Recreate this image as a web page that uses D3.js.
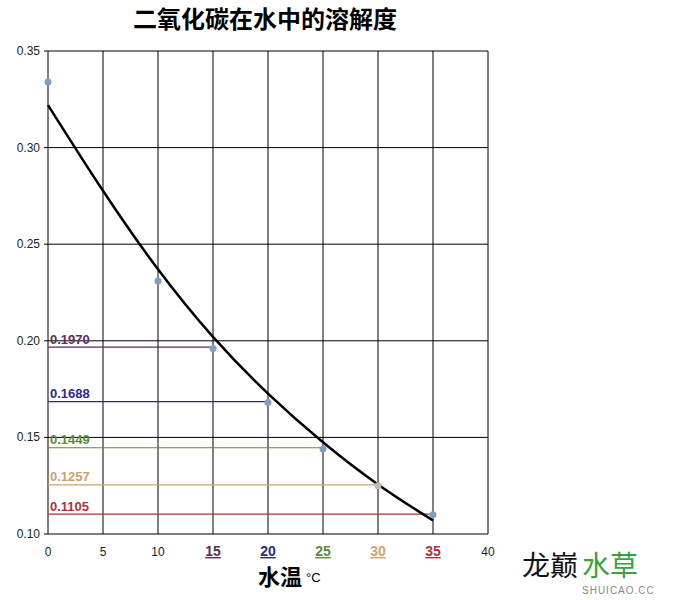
<!DOCTYPE html><html><head><meta charset="utf-8"><script src="https://cdn.jsdelivr.net/npm/d3@7"></script>
<style>body{margin:0;background:#fff}</style></head><body><svg id="c" width="674" height="600"></svg>
<script>
const ptX=[0,10,15,20,25,30,35];
const ptY=[0.334,0.231,0.196,0.168,0.144,0.125,0.110];
const curveX=[0,5,10,15,20,25,30,35];
const curveY=[0.322,0.277,0.236,0.201,0.172,0.147,0.125,0.107];
const refVals=[0.1970,0.1688,0.1449,0.1257,0.1105];
const refLabels=["0.1970","0.1688","0.1449","0.1257","0.1105"];
const refX=[15,20,25,30,35];
const refColors=["#5a2d5a","#2a2a8a","#5a8a3a","#d0a070","#b03040"];
const xTicks=[0,5,10,15,20,25,30,35,40];
const yTicks=[0.10,0.15,0.20,0.25,0.30,0.35];
const svg=d3.select("#c");
const x=d3.scaleLinear().domain([0,40]).range([48,488]);
const y=d3.scaleLinear().domain([0.10,0.35]).range([534,51]);
const g=svg.append("g");
g.selectAll(".vg").data(xTicks).join("line").attr("x1",d=>x(d)).attr("x2",d=>x(d)).attr("y1",y(0.35)).attr("y2",y(0.10)).attr("stroke","#000");
g.selectAll(".hg").data(yTicks).join("line").attr("x1",x(0)-4).attr("x2",x(40)).attr("y1",d=>y(d)).attr("y2",d=>y(d)).attr("stroke","#000");
g.selectAll(".yt").data(yTicks).join("text").attr("x",x(0)-8).attr("y",d=>y(d)+4).attr("text-anchor","end").attr("font-family","Liberation Sans").attr("font-size",12).attr("fill","#222").text(d=>d.toFixed(2));
const xcol=d=>{const i=refX.indexOf(d);return i<0?"#222":refColors[i];};
g.selectAll(".xt").data(xTicks).join("text").attr("x",d=>x(d)).attr("y",556).attr("text-anchor","middle").attr("font-family","Liberation Sans").attr("font-size",d=>refX.includes(d)?14:12).attr("font-weight",d=>refX.includes(d)?"bold":"normal").attr("text-decoration",d=>refX.includes(d)?"underline":"none").attr("fill",xcol).text(d=>d);
refVals.forEach((v,i)=>{
  g.append("line").attr("x1",x(0)).attr("x2",x(refX[i])).attr("y1",y(v)+0.5).attr("y2",y(v)+0.5).attr("stroke",refColors[i]).attr("stroke-width",1.2);
  g.append("text").attr("x",x(0)+2).attr("y",y(v)-3).attr("font-family","Liberation Sans").attr("font-weight","bold").attr("font-size",13).attr("fill",refColors[i]).text(refLabels[i]);
});
const line=d3.line().x((d,i)=>x(curveX[i])).y(d=>y(d)).curve(d3.curveBasis);
g.append("path").attr("d",line(curveY)).attr("fill","none").attr("stroke","#000").attr("stroke-width",2.5);
g.selectAll(".pt").data(ptY).join("circle").attr("cx",(d,i)=>x(ptX[i])).attr("cy",d=>y(d)).attr("r",3.5).attr("fill",(d,i)=>ptX[i]==30?"#bbb":"#7f9fc0");
svg.append("text").attr("x",265).attr("y",28).attr("text-anchor","middle").attr("font-family","Noto Sans CJK SC").attr("font-weight","bold").attr("font-size",24).text("二氧化碳在水中的溶解度");
svg.append("text").attr("x",258).attr("y",585).attr("text-anchor","start").attr("font-family","Noto Sans CJK SC").attr("font-weight","bold").attr("font-size",22).text("水温");
svg.append("text").attr("x",306).attr("y",582).attr("font-family","Liberation Sans").attr("font-size",13).text("°C");
svg.append("text").attr("x",522).attr("y",576).attr("font-family","Noto Sans CJK SC").attr("font-size",28).attr("fill","#111").text("龙巅");
svg.append("text").attr("x",582).attr("y",576).attr("font-family","Noto Sans CJK SC").attr("font-size",28).attr("fill","#3aa040").text("水草");
svg.append("text").attr("x",582).attr("y",594).attr("font-family","Liberation Sans").attr("font-size",10).attr("fill","#888").attr("letter-spacing",1).text("SHUICAO.CC");
</script></body></html>
